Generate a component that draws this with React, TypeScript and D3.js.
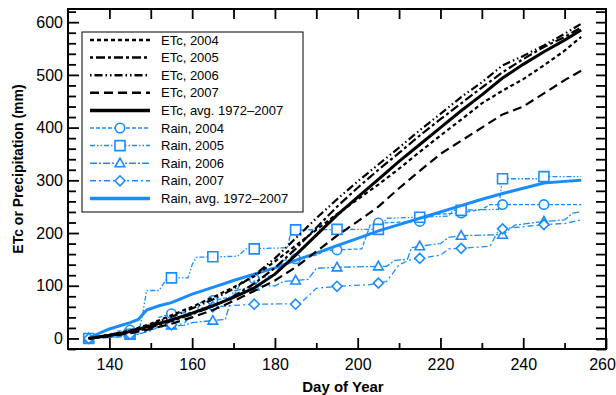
import React, { useEffect, useRef } from 'react'
import * as d3 from 'd3'

// cumulative ETc, read every 5 days
const etcDays = [135, 140, 145, 150, 155, 160, 165, 170, 175, 180, 185, 190, 195, 200, 205, 210, 215, 220, 225, 230, 235, 240, 245, 250, 254]
const etc2004 = [0, 7, 15, 28, 44, 60, 78, 97, 118, 146, 176, 206, 236, 264, 292, 322, 354, 385, 415, 446, 470, 492, 518, 546, 572]
const etc2005 = [0, 5, 11, 21, 33, 46, 61, 80, 104, 134, 170, 210, 250, 286, 320, 352, 385, 416, 446, 476, 505, 530, 553, 572, 590]
const etc2006 = [0, 6, 14, 26, 41, 57, 74, 94, 120, 152, 190, 228, 264, 298, 330, 362, 395, 426, 458, 486, 518, 536, 556, 578, 597]
const etc2007 = [0, 4, 10, 18, 28, 40, 54, 71, 90, 110, 135, 165, 195, 222, 250, 285, 318, 350, 375, 400, 425, 440, 465, 490, 508]
const etcAvg = [0, 6, 13, 24, 35, 48, 62, 78, 96, 122, 158, 196, 234, 268, 302, 336, 368, 400, 432, 462, 494, 520, 544, 566, 585]

// cumulative rain, break points of the step-like curves
const rain2004Days = [135, 140, 142, 150, 152, 155, 161, 162, 165, 170, 172, 175, 180, 182, 185, 190, 192, 195, 201, 203, 205, 215, 218, 225, 230, 232, 254]
const rain2004 = [0, 5, 14, 16, 40, 47, 50, 68, 72, 80, 108, 113, 120, 148, 151, 158, 166, 168, 170, 215, 219, 222, 235, 238, 245, 254, 254]
const rain2005Days = [135, 142, 147, 148, 149, 152, 154, 159, 160, 161, 171, 173, 183, 184, 204, 205, 207, 215, 222, 223, 234, 235, 244, 245, 254]
const rain2005 = [0, 3, 8, 45, 91, 91, 115, 115, 140, 154, 156, 170, 172, 206, 207, 207, 228, 230, 232, 243, 245, 303, 303, 307, 307]
const rain2006Days = [135, 143, 146, 150, 152, 158, 160, 165, 168, 170, 175, 180, 182, 185, 188, 190, 195, 207, 209, 212, 213, 215, 220, 222, 225, 235, 238, 245, 250, 252, 254]
const rain2006 = [0, 3, 6, 15, 22, 25, 30, 34, 36, 90, 99, 100, 108, 110, 112, 133, 135, 137, 148, 150, 172, 175, 180, 192, 195, 197, 215, 222, 225, 238, 240]
const rain2007Days = [135, 140, 145, 148, 150, 155, 158, 160, 162, 165, 175, 186, 188, 190, 195, 203, 205, 207, 210, 213, 215, 220, 222, 225, 232, 234, 235, 245, 250, 254]
const rain2007 = [0, 3, 8, 10, 20, 26, 28, 45, 58, 60, 65, 66, 80, 95, 99, 102, 105, 108, 140, 150, 152, 158, 170, 171, 175, 205, 208, 216, 218, 225]
const rainAvgDays = [135, 137, 140, 145, 147, 149, 152, 155, 160, 165, 170, 175, 180, 185, 190, 195, 200, 205, 210, 215, 220, 225, 230, 235, 240, 245, 250, 254]
const rainAvg = [0, 8, 18, 30, 36, 54, 62, 68, 84, 97, 110, 122, 134, 148, 162, 176, 190, 204, 216, 228, 240, 252, 264, 275, 285, 295, 298, 300]

// symbols every 10 days
const markDays = [135, 145, 155, 165, 175, 185, 195, 205, 215, 225, 235, 245]
const mark2004 = [0, 16, 47, 72, 113, 151, 168, 219, 222, 238, 254, 254]
const mark2005 = [0, 8, 115, 155, 170, 206, 207, 207, 230, 243, 303, 307]
const mark2006 = [0, 6, 25, 34, 99, 110, 135, 137, 175, 195, 197, 222]
const mark2007 = [0, 8, 26, 60, 65, 65, 99, 105, 152, 171, 208, 216]

const xMajor = [140, 160, 180, 200, 220, 240, 260]
const yMajor = [0, 100, 200, 300, 400, 500, 600]

const BLUE = '#1a8cff'
const FONT = 'Liberation Sans, Arial, Helvetica, sans-serif'

type Series = {
  label: string
  days: number[]
  values: number[]
  color: string
  width: number
  dash: string | null
  marker?: string
  marks?: number[]
}

const series: Series[] = [
  { label: 'ETc, 2004', days: etcDays, values: etc2004, color: '#000', width: 2.2, dash: '4,3' },
  { label: 'ETc, 2005', days: etcDays, values: etc2005, color: '#000', width: 2.2, dash: '3,3,9,3' },
  { label: 'ETc, 2006', days: etcDays, values: etc2006, color: '#000', width: 2.2, dash: '1.5,3,8,3,1.5,3' },
  { label: 'ETc, 2007', days: etcDays, values: etc2007, color: '#000', width: 2.2, dash: '9,5' },
  { label: 'ETc, avg. 1972–2007', days: etcDays, values: etcAvg, color: '#000', width: 3, dash: null },
  { label: 'Rain, 2004', days: rain2004Days, values: rain2004, color: BLUE, width: 1.3, dash: '4,2', marker: 'circle', marks: mark2004 },
  { label: 'Rain, 2005', days: rain2005Days, values: rain2005, color: BLUE, width: 1.3, dash: '5,2,1.5,2,1.5,2', marker: 'square', marks: mark2005 },
  { label: 'Rain, 2006', days: rain2006Days, values: rain2006, color: BLUE, width: 1.3, dash: '7,2,2,2', marker: 'triangle', marks: mark2006 },
  { label: 'Rain, 2007', days: rain2007Days, values: rain2007, color: BLUE, width: 1.3, dash: '6,3,2,3', marker: 'diamond', marks: mark2007 },
  { label: 'Rain, avg. 1972–2007', days: rainAvgDays, values: rainAvg, color: BLUE, width: 3, dash: null },
]

function markerPath(type: string) {
  if (type === 'circle') return 'M4.7,0A4.7,4.7 0 1,1 -4.7,0A4.7,4.7 0 1,1 4.7,0Z'
  if (type === 'square') return 'M-5,-5H5V5H-5Z'
  if (type === 'triangle') return 'M0,-5L4.8,3.6H-4.8Z'
  return 'M0,-5L5,0L0,5L-5,0Z'
}

export default function App() {
  const ref = useRef<SVGSVGElement>(null)

  useEffect(() => {
    const svg = d3.select(ref.current)
    svg.selectAll('*').remove()

    const x = d3.scaleLinear().domain([130, 260]).range([68, 606])
    const y = d3.scaleLinear().domain([-20, 625]).range([349, 9])

    const styleAxis = (g: any) => {
      g.select('.domain').remove()
      g.selectAll('line').attr('stroke', '#000').attr('stroke-width', 1.8)
      g.selectAll('text').attr('font-family', FONT).attr('font-size', 16).attr('fill', '#000')
    }

    // bottom
    svg.append('g').attr('transform', 'translate(0,349)')
      .call(d3.axisBottom(x).tickValues(xMajor).tickSize(-11).tickPadding(10))
      .call(styleAxis)
      .call((g: any) => g.selectAll('text').filter((d: number) => d === 260).attr('dx', -4))
    svg.append('g').attr('transform', 'translate(0,349)')
      .call(d3.axisBottom(x).tickValues(d3.range(150, 260, 20)).tickSize(-6).tickFormat(() => ''))
      .call(styleAxis)
    // top
    svg.append('g').attr('transform', 'translate(0,9)')
      .call(d3.axisTop(x).tickValues(d3.range(140, 260, 10)).tickSize(-10).tickFormat(() => ''))
      .call(styleAxis)
    // left
    svg.append('g').attr('transform', 'translate(68,0)')
      .call(d3.axisLeft(y).tickValues(yMajor).tickSize(-11).tickPadding(5))
      .call(styleAxis)
    svg.append('g').attr('transform', 'translate(68,0)')
      .call(d3.axisLeft(y).tickValues(d3.range(-20, 621, 20).filter(v => v % 100 !== 0)).tickSize(-8).tickFormat(() => ''))
      .call(styleAxis)
    // right
    svg.append('g').attr('transform', 'translate(606,0)')
      .call(d3.axisRight(y).tickValues(d3.range(-20, 621, 20)).tickSize(-10).tickFormat(() => ''))
      .call(styleAxis)

    svg.append('rect')
      .attr('x', 68).attr('y', 9).attr('width', 538).attr('height', 340)
      .attr('fill', 'none').attr('stroke', '#000').attr('stroke-width', 2)

    // data
    const plot = svg.append('g')
    const line = d3.line<[number, number]>().x(d => x(d[0])).y(d => y(d[1]))

    const drawOrder = [5, 6, 7, 8, 9, 0, 1, 2, 3, 4]
    drawOrder.forEach(i => {
      const s = series[i]
      plot.append('path')
        .datum(s.days.map((d, k) => [d, s.values[k]] as [number, number]))
        .attr('d', line)
        .attr('fill', 'none')
        .attr('stroke', s.color)
        .attr('stroke-width', s.width)
        .attr('stroke-dasharray', s.dash)
      if (s.marker && s.marks) {
        plot.selectAll(null)
          .data(markDays.map((d, k) => [d, s.marks![k]]))
          .join('path')
          .attr('transform', d => `translate(${x(d[0])},${y(d[1])})`)
          .attr('d', markerPath(s.marker))
          .attr('fill', '#fff')
          .attr('stroke', s.color)
          .attr('stroke-width', 1.6)
      }
    })

    // legend
    const lg = svg.append('g')
    lg.append('rect')
      .attr('x', 82).attr('y', 32).attr('width', 221).attr('height', 180)
      .attr('fill', '#fff').attr('stroke', '#000').attr('stroke-width', 1)
    series.forEach((s, i) => {
      const cy = 40 + i * 17.6
      lg.append('line')
        .attr('x1', 90).attr('x2', 150).attr('y1', cy).attr('y2', cy)
        .attr('stroke', s.color)
        .attr('stroke-width', s.width === 3 ? 3.5 : s.width === 1.3 ? 1.5 : 2.5)
        .attr('stroke-dasharray', s.dash)
      if (s.marker) {
        lg.append('path')
          .attr('transform', `translate(120,${cy})`)
          .attr('d', markerPath(s.marker))
          .attr('fill', '#fff').attr('stroke', s.color).attr('stroke-width', 1.6)
      }
      lg.append('text')
        .attr('x', 161).attr('y', cy).attr('dy', '0.36em')
        .attr('font-family', FONT).attr('font-size', 13)
        .text(s.label)
    })

    // titles
    svg.append('text')
      .attr('transform', 'translate(23,169) rotate(-90)')
      .attr('text-anchor', 'middle')
      .attr('font-family', FONT).attr('font-size', 14).attr('font-weight', 'bold')
      .text('ETc or Precipitation (mm)')
    svg.append('text')
      .attr('x', 343).attr('y', 392)
      .attr('text-anchor', 'middle')
      .attr('font-family', FONT).attr('font-size', 15).attr('font-weight', 'bold')
      .text('Day of Year')
  }, [])

  return (
    <svg ref={ref} width={616} height={395}
      style={{ position: 'absolute', left: 0, top: 0, background: '#fff' }} />
  )
}
